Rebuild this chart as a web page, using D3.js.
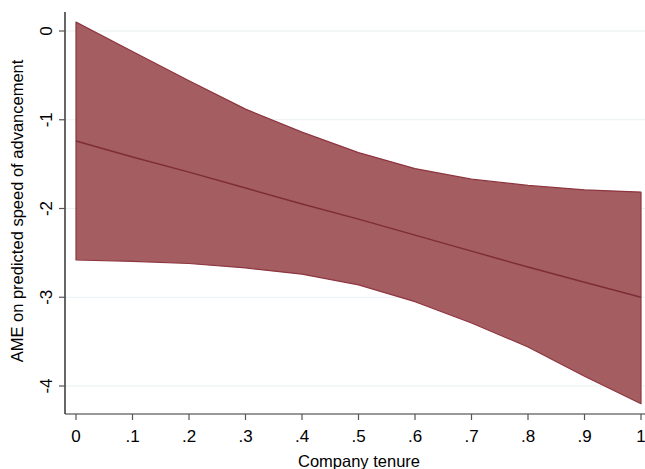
<!DOCTYPE html>
<html>
<head>
  <style>
    body { margin: 0; background: #fff; }
    svg { display: block; }
  </style>
</head>
<body>
  <svg width="645" height="469"></svg>
  <script src="https://d3js.org/d3.v7.min.js"></script>
  <script>
    // company tenure (x) and AME estimates with 95% CI
    const tenure = [0, .1, .2, .3, .4, .5, .6, .7, .8, .9, 1];
    const ame = [-1.24, -1.42, -1.59, -1.77, -1.95, -2.12, -2.30, -2.48, -2.66, -2.83, -3.00];
    const upper = [0.10, -0.23, -0.56, -0.88, -1.14, -1.37, -1.55, -1.67, -1.74, -1.79, -1.815];
    const lower = [-2.58, -2.595, -2.62, -2.67, -2.74, -2.86, -3.05, -3.29, -3.56, -3.89, -4.20];
    const xTicks = [0, .1, .2, .3, .4, .5, .6, .7, .8, .9, 1];
    const yTicks = [0, -1, -2, -3, -4];

    const width = 645;
    const height = 469;
    const font = "'Liberation Sans', Arial, Helvetica, sans-serif";

    const svg = d3.select("svg")
        .attr("viewBox", [0, 0, width, height]);

    const x = d3.scaleLinear().domain([0, 1]).range([76, 641]);
    const y = d3.scaleLinear().domain([0, -4]).range([31, 386]);

    const plotLeft = 65, plotRight = 645, plotTop = 12, plotBottom = 414;

    const data = tenure.map((t, i) => ({ t, m: ame[i], lo: lower[i], hi: upper[i] }));

    // gridlines
    svg.append("g")
      .selectAll("line")
      .data(yTicks)
      .join("line")
        .attr("x1", plotLeft)
        .attr("x2", plotRight)
        .attr("y1", d => y(d))
        .attr("y2", d => y(d))
        .attr("stroke", "#e9f0f2")
        .attr("stroke-width", 1.2);

    // confidence band
    const area = d3.area()
      .x(d => x(d.t))
      .y0(d => y(d.lo))
      .y1(d => y(d.hi));

    svg.append("path")
      .datum(data)
      .attr("d", area)
      .attr("fill", "#a45e62")
      .attr("stroke", "#8e3540")
      .attr("stroke-width", 1.2)
      .attr("stroke-linejoin", "round");

    // point estimate
    svg.append("path")
      .datum(data)
      .attr("d", d3.line().x(d => x(d.t)).y(d => y(d.m)))
      .attr("fill", "none")
      .attr("stroke", "#7e2c38")
      .attr("stroke-width", 1.5);

    // y axis
    const yAxis = svg.append("g");
    yAxis.append("line")
      .attr("x1", plotLeft).attr("x2", plotLeft)
      .attr("y1", plotTop).attr("y2", plotBottom)
      .attr("stroke", "#000")
      .attr("stroke-width", 1.2);
    yAxis.selectAll(".tick")
      .data(yTicks)
      .join("line")
        .attr("x1", plotLeft - 6).attr("x2", plotLeft)
        .attr("y1", d => y(d)).attr("y2", d => y(d))
        .attr("stroke", "#555")
        .attr("stroke-width", 1.2);
    yAxis.selectAll("text")
      .data(yTicks)
      .join("text")
        .attr("transform", d => `translate(52, ${y(d)}) rotate(-90)`)
        .attr("text-anchor", "middle")
        .attr("font-family", font)
        .attr("font-size", 17)
        .text(d => d3.format("d")(d).replace("−", "-"));

    // x axis
    const xAxis = svg.append("g");
    xAxis.append("line")
      .attr("x1", plotLeft).attr("x2", plotRight)
      .attr("y1", plotBottom).attr("y2", plotBottom)
      .attr("stroke", "#333")
      .attr("stroke-width", 1.2);
    xAxis.selectAll(".tick")
      .data(xTicks)
      .join("line")
        .attr("x1", d => x(d)).attr("x2", d => x(d))
        .attr("y1", plotBottom).attr("y2", plotBottom + 6)
        .attr("stroke", "#555")
        .attr("stroke-width", 1.2);
    xAxis.selectAll("text")
      .data(xTicks)
      .join("text")
        .attr("x", d => x(d))
        .attr("y", 442)
        .attr("text-anchor", "middle")
        .attr("font-family", font)
        .attr("font-size", 17)
        .text(d => d === 0 ? "0" : d === 1 ? "1" : d3.format(".1f")(d).replace(/^0/, ""));

    // axis titles
    svg.append("text")
      .attr("x", 359)
      .attr("y", 467)
      .attr("text-anchor", "middle")
      .attr("font-family", font)
      .attr("font-size", 16.5)
      .text("Company tenure");

    svg.append("text")
      .attr("transform", "translate(23, 211) rotate(-90)")
      .attr("text-anchor", "middle")
      .attr("font-family", font)
      .attr("font-size", 16.5)
      .text("AME on predicted speed of advancement");
  </script>
</body>
</html>
